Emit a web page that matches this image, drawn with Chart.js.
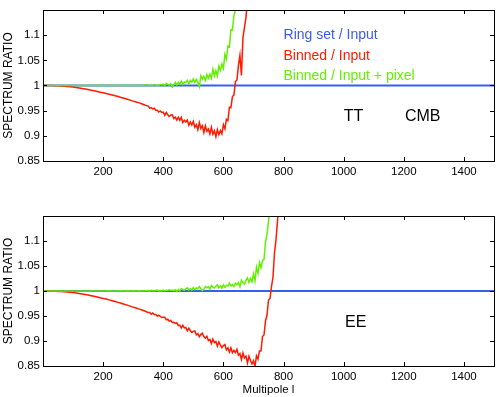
<!DOCTYPE html>
<html>
<head>
<meta charset="utf-8">
<script src="https://cdn.jsdelivr.net/npm/chart.js@4"></script>
<style>
    body { margin: 0; background: #fff; }
    #wrap { position: relative; width: 498px; height: 397px; }
    .panel { position: absolute; left: 0; width: 498px; }
</style>
</head>
<body>
<div id="wrap">
    <div class="panel" style="top:0;height:185px"><canvas id="ttChart" width="498" height="185"></canvas></div>
    <div class="panel" style="top:200px;height:197px"><canvas id="eeChart" width="498" height="197"></canvas></div>
</div>
<script>
// Tick labels
const xTicks = [200, 400, 600, 800, 1000, 1200, 1400];
const yTicks = [0.85, 0.9, 0.95, 1, 1.05, 1.1];

// Multipoles shared by the noisy series (step 10 up to 340, then step 5)
const multipoles = [
    0, 10, 20, 30, 40, 50, 60, 70, 80, 90,
    100, 110, 120, 130, 140, 150, 160, 170, 180, 190,
    200, 210, 220, 230, 240, 250, 260, 270, 280, 290,
    300, 310, 320, 330, 340,
    350, 355, 360, 365, 370, 375, 380, 385, 390, 395,
    400, 405, 410, 415, 420, 425, 430, 435, 440, 445,
    450, 455, 460, 465, 470, 475, 480, 485, 490, 495,
    500, 505, 510, 515, 520, 525, 530, 535, 540, 545,
    550, 555, 560, 565, 570, 575, 580, 585, 590, 595,
    600, 605, 610, 615, 620, 625, 630, 635, 640, 645,
    650, 655, 660, 665, 670, 675, 680, 685, 690, 695,
    700, 705, 710, 715, 720, 725, 730, 735, 740, 745,
    750, 755, 760, 765, 770, 775, 780, 785, 790,
];
const ringEll = [2, 1500];

// TT panel
const ttRing = [1, 1];
const ttBinned = [
    1.0000, 1.0000, 0.9999, 0.9998, 0.9996, 0.9993, 0.9990, 0.9986, 0.9981, 0.9975,
    0.9968, 0.9960, 0.9951, 0.9941, 0.9930, 0.9919, 0.9907, 0.9894, 0.9881, 0.9868,
    0.9855, 0.9841, 0.9826, 0.9812, 0.9795, 0.9780, 0.9762, 0.9745, 0.9728, 0.9710,
    0.9690, 0.9672, 0.9655, 0.9632, 0.9608,
    0.9592, 0.9552, 0.9559, 0.9536, 0.9550, 0.9507, 0.9507, 0.9472, 0.9494, 0.9463,
    0.9471, 0.9407, 0.9464, 0.9420, 0.9384, 0.9409, 0.9421, 0.9346, 0.9370, 0.9311,
    0.9370, 0.9309, 0.9368, 0.9267, 0.9311, 0.9275, 0.9314, 0.9213, 0.9277, 0.9216,
    0.9286, 0.9170, 0.9222, 0.9122, 0.9262, 0.9146, 0.9198, 0.9066, 0.9198, 0.9090,
    0.9134, 0.9036, 0.9170, 0.9032, 0.9102, 0.8985, 0.9126, 0.9024, 0.9106, 0.9038,
    0.9220, 0.9140, 0.9330, 0.9300, 0.9570, 0.9560, 0.9780, 0.9810, 1.0080, 1.0110,
    1.0400, 1.0600, 1.0200, 1.0950, 1.1150, 1.1350, 1.1700, 1.2000, 1.2500,
];
const ttPixel = [
    1.0000, 1.0000, 1.0002, 0.9998, 1.0001, 1.0000, 1.0002, 0.9999, 1.0001, 1.0000,
    1.0002, 0.9999, 1.0001, 1.0000, 1.0003, 0.9999, 1.0002, 1.0000, 1.0003, 0.9999,
    1.0002, 1.0001, 1.0004, 0.9999, 1.0003, 1.0001, 1.0005, 0.9999, 1.0004, 1.0002,
    1.0006, 1.0000, 1.0007, 1.0002, 1.0009,
    1.0009, 0.9989, 1.0006, 1.0000, 1.0021, 1.0000, 1.0011, 0.9995, 1.0023, 1.0010,
    1.0027, 0.9990, 1.0044, 1.0022, 1.0007, 1.0036, 0.9965, 1.0011, 1.0062, 1.0007,
    1.0064, 1.0029, 1.0090, 1.0023, 1.0072, 1.0057, 1.0102, 1.0035, 1.0100, 1.0065,
    1.0132, 1.0063, 1.0120, 1.0063, 0.9976, 1.0195, 1.0126, 1.0183, 1.0102, 1.0219,
    1.0144, 1.0224, 1.0141, 1.0320, 1.0193, 1.0299, 1.0190, 1.0386, 1.0302, 1.0426,
    1.0342, 1.0621, 1.0528, 1.0785, 1.0766, 1.1108, 1.1102, 1.1392, 1.1500, 1.1750,
    1.2000,
];

// EE panel
const eeRing = [1, 1];
const eeBinned = [
    1.0000, 1.0000, 0.9999, 0.9997, 0.9995, 0.9992, 0.9988, 0.9984, 0.9979, 0.9974,
    0.9968, 0.9960, 0.9951, 0.9941, 0.9930, 0.9919, 0.9906, 0.9893, 0.9880, 0.9866,
    0.9852, 0.9838, 0.9822, 0.9806, 0.9790, 0.9772, 0.9755, 0.9736, 0.9718, 0.9698,
    0.9678, 0.9659, 0.9638, 0.9619, 0.9596,
    0.9568, 0.9569, 0.9536, 0.9560, 0.9531, 0.9532, 0.9495, 0.9518, 0.9492, 0.9469,
    0.9476, 0.9474, 0.9428, 0.9432, 0.9394, 0.9412, 0.9370, 0.9376, 0.9352, 0.9364,
    0.9310, 0.9319, 0.9260, 0.9313, 0.9262, 0.9271, 0.9204, 0.9257, 0.9210, 0.9171,
    0.9192, 0.9202, 0.9124, 0.9146, 0.9084, 0.9134, 0.9156, 0.9090, 0.9056, 0.9094,
    0.9010, 0.9031, 0.8950, 0.9037, 0.8968, 0.8989, 0.8896, 0.8983, 0.8920, 0.8869,
    0.8908, 0.8931, 0.8822, 0.8863, 0.8778, 0.8861, 0.8764, 0.8811, 0.8768, 0.8833,
    0.8715, 0.8749, 0.8630, 0.8763, 0.8662, 0.8696, 0.8559, 0.8697, 0.8610, 0.8541,
    0.8607, 0.8492, 0.8701, 0.8637, 0.8800, 0.8800, 0.9090, 0.9120, 0.9400, 0.9520,
    0.9820, 0.9850, 1.0090, 1.0280, 1.0770, 1.1030, 1.1400, 1.1800, 1.2200,
];
const eePixel = [
    1.0000, 0.9998, 1.0002, 0.9999, 1.0001, 1.0000, 1.0002, 0.9999, 1.0001, 1.0000,
    1.0002, 0.9999, 1.0001, 1.0000, 1.0002, 0.9999, 1.0001, 1.0000, 1.0002, 0.9999,
    1.0002, 1.0000, 1.0003, 0.9999, 1.0002, 1.0001, 1.0004, 1.0000, 1.0003, 1.0001,
    1.0004, 1.0001, 1.0005, 1.0002, 1.0006,
    1.0009, 0.9997, 1.0014, 1.0007, 1.0001, 1.0011, 1.0017, 1.0002, 1.0011, 1.0000,
    1.0016, 1.0003, 1.0014, 1.0010, 1.0024, 1.0010, 1.0017, 1.0007, 1.0025, 0.9989,
    1.0032, 0.9996, 1.0050, 1.0029, 1.0014, 1.0044, 1.0065, 1.0020, 1.0050, 1.0017,
    1.0068, 1.0028, 1.0060, 1.0047, 1.0088, 1.0045, 1.0008, 1.0034, 1.0087, 1.0062,
    1.0086, 1.0037, 1.0108, 1.0079, 1.0058, 1.0097, 1.0124, 1.0063, 1.0102, 1.0057,
    1.0124, 1.0072, 1.0116, 1.0100, 1.0156, 1.0100, 1.0128, 1.0088, 1.0160, 1.0128,
    1.0168, 1.0087, 1.0216, 1.0170, 1.0138, 1.0211, 1.0263, 1.0169, 1.0249, 1.0183,
    1.0342, 1.0204, 1.0474, 1.0354, 1.0570, 1.0465, 1.0612, 1.0630, 1.0984, 1.1126,
    1.1400, 1.1700, 1.2000,
];

const BLUE = "#3a5cf0";
const RED = "#ff1a00";
const GREEN = "#62f000";

Chart.defaults.font.family = "'Liberation Sans', Arial, sans-serif";
Chart.defaults.color = "#000";

function toPoints(ell, vals) {
    return vals.map((v, i) => ({ x: ell[i], y: v }));
}

// Box frame with inward tick marks on all four sides.
const frameTicks = {
    id: "frameTicks",
    afterDraw(chart) {
        const { ctx, chartArea: a, scales } = chart;
        const len = 4;
        ctx.save();
        ctx.strokeStyle = "#000";
        ctx.lineWidth = 1;
        ctx.beginPath();
        scales.x.ticks.forEach((t) => {
            const px = Math.round(scales.x.getPixelForValue(t.value)) + 0.5;
            ctx.moveTo(px, a.bottom); ctx.lineTo(px, a.bottom - len);
            ctx.moveTo(px, a.top); ctx.lineTo(px, a.top + len);
        });
        scales.y.ticks.forEach((t) => {
            const py = Math.round(scales.y.getPixelForValue(t.value)) + 0.5;
            ctx.moveTo(a.left, py); ctx.lineTo(a.left + len, py);
            ctx.moveTo(a.right, py); ctx.lineTo(a.right - len, py);
        });
        ctx.stroke();
        ctx.strokeRect(Math.round(a.left) + 0.5, Math.round(a.top) + 0.5,
            Math.round(a.right - a.left), Math.round(a.bottom - a.top));
        ctx.restore();
    },
};

// Text labels placed in data coordinates.
function notes(items) {
    return {
        id: "notes",
        afterDatasetsDraw(chart) {
            const { ctx, scales } = chart;
            ctx.save();
            ctx.textBaseline = "middle";
            items.forEach((it) => {
                ctx.font = it.size + "px 'Liberation Sans', Arial, sans-serif";
                ctx.fillStyle = it.color;
                ctx.textAlign = it.align;
                ctx.fillText(it.text, scales.x.getPixelForValue(it.x), scales.y.getPixelForValue(it.y));
            });
            ctx.restore();
        },
    };
}

function createPanel(canvasId, ring, binned, pixel, opts) {
    const ctx = document.getElementById(canvasId).getContext("2d");
    return new Chart(ctx, {
        type: "line",
        data: {
            datasets: [
                { label: "Binned / Input + pixel", data: toPoints(multipoles, pixel), borderColor: GREEN, borderWidth: 1.5, order: 0 },
                { label: "Binned / Input", data: toPoints(multipoles, binned), borderColor: RED, borderWidth: 1.5, order: 1 },
                { label: "Ring set / Input", data: toPoints(ringEll, ring), borderColor: BLUE, borderWidth: 2, order: 2 },
            ],
        },
        options: {
            responsive: false,
            animation: false,
            events: [],
            elements: { point: { radius: 0 }, line: { tension: 0 } },
            layout: { padding: { top: opts.top, right: 4, bottom: 0, left: 0 } },
            plugins: { legend: { display: false }, tooltip: { enabled: false } },
            scales: {
                x: {
                    type: "linear",
                    min: 0,
                    max: 1500,
                    grid: { display: false, drawTicks: false },
                    border: { display: false },
                    afterBuildTicks: (s) => { s.ticks = xTicks.map((v) => ({ value: v })); },
                    afterFit: (s) => { s.height = opts.xHeight; },
                    ticks: { padding: opts.xPad, maxRotation: 0, font: { size: 11.5 }, callback: (v) => String(v) },
                    title: {
                        display: !!opts.xTitle,
                        text: opts.xTitle || "",
                        font: { size: 11.5 },
                        padding: { top: 0, bottom: 0 },
                    },
                },
                y: {
                    min: 0.85,
                    max: 1.15,
                    grid: { display: false, drawTicks: false },
                    border: { display: false },
                    afterBuildTicks: (s) => { s.ticks = yTicks.map((v) => ({ value: v })); },
                    afterFit: (s) => { s.width = 43; },
                    ticks: { padding: 3, font: { size: 11.5 }, callback: (v) => String(v) },
                    title: {
                        display: true,
                        text: "SPECTRUM RATIO",
                        font: { size: 12 },
                        padding: { top: 1, bottom: 0 },
                    },
                },
            },
        },
        plugins: [frameTicks, notes(opts.notes)],
    });
}

createPanel("ttChart", ttRing, ttBinned, ttPixel, {
    top: 10,
    xHeight: 24,
    xPad: 4,
    notes: [
        { text: "Ring set / Input", x: 800, y: 1.1, color: BLUE, size: 14, align: "left" },
        { text: "Binned / Input", x: 800, y: 1.058, color: RED, size: 14, align: "left" },
        { text: "Binned / Input + pixel", x: 800, y: 1.018, color: GREEN, size: 14, align: "left" },
        { text: "TT", x: 1033, y: 0.938, color: "#000", size: 16, align: "center" },
        { text: "CMB", x: 1263, y: 0.938, color: "#000", size: 16, align: "center" },
    ],
});

createPanel("eeChart", eeRing, eeBinned, eePixel, {
    top: 16,
    xHeight: 31,
    xPad: 4,
    xTitle: "Multipole l",
    notes: [
        { text: "EE", x: 1040, y: 0.937, color: "#000", size: 16, align: "center" },
    ],
});
</script>
</body>
</html>
